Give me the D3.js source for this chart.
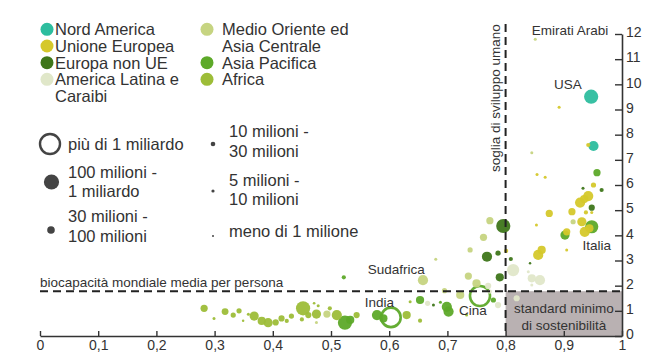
<!DOCTYPE html>
<html><head><meta charset="utf-8">
<script src="https://cdn.jsdelivr.net/npm/d3@7"></script>
<style>
body{margin:0;background:#fff;}
svg{display:block;font-family:"Liberation Sans",Arial,Helvetica,sans-serif;}
</style></head>
<body><svg id="c" width="650" height="356"></svg>
<script>
// ---- DATA ----
const regions = ["Nord America","Unione Europea","Europa non UE","America Latina e Caraibi","Medio Oriente ed Asia Centrale","Asia Pacifica","Africa"];
const regionColors = ["#2dbd9e","#d5c82b","#3e761a","#e0e7c9","#c6d481","#5da929","#9dbd38"];
// human development index (x), ecological footprint gha/person (y), region index, population (millions)
const hdi = [0.282,0.299,0.318,0.332,0.342,0.349,0.358,0.368,0.381,0.392,0.405,0.415,0.424,0.432,0.450,0.452,0.461,0.471,0.478,0.475,0.475,0.493,0.498,0.510,0.524,0.544,0.533,
0.579,0.590,0.603,0.630,0.636,0.653,0.653,0.666,0.676,0.688,0.699,0.702,0.695,0.722,0.733,0.756,0.779,0.787,0.773,0.658,
0.522,0.680,0.736,0.750,0.770,0.739,0.762,0.773,0.796,0.768,0.787,0.801,0.809,0.790,0.813,0.859,0.845,0.839,0.845,0.819,0.842,
0.856,0.862,0.905,0.902,0.905,0.948,0.936,0.944,0.931,0.916,0.853,0.875,0.914,0.938,0.948,0.948,0.928,0.942,0.935,0.933,0.951,0.965,0.957,
0.854,0.868,0.845,0.942,0.951,0.892,0.947,0.851];
const footprint = [1.10,0.70,0.97,0.83,1.00,0.61,0.86,0.79,0.60,0.53,0.54,0.70,0.60,0.79,0.66,1.10,0.83,1.30,1.20,0.87,0.54,0.87,1.10,0.83,0.53,0.83,0.64,
0.83,0.70,0.74,0.83,1.36,0.61,1.43,1.30,1.23,1.34,1.16,0.97,1.80,1.63,0.83,1.59,1.43,1.23,1.76,2.22,
2.33,3.05,2.38,2.09,1.99,3.42,3.92,4.58,4.37,3.15,3.29,3.38,3.06,2.33,2.62,2.22,2.29,2.55,2.03,1.50,2.89,
3.22,3.42,3.42,4.01,4.14,4.34,4.14,4.28,4.54,4.54,4.41,4.87,4.94,4.91,4.91,5.10,5.30,5.56,5.44,5.87,6.00,5.80,6.49,
6.42,6.31,7.28,7.59,7.55,9.09,9.51,11.79];
const region = [6,6,6,6,6,6,6,6,6,6,6,6,6,6,6,6,6,6,6,6,4,4,6,6,5,6,5,
5,5,5,6,6,6,5,3,2,5,5,5,4,4,6,5,5,3,3,4,
5,4,4,4,3,4,4,4,2,2,2,1,2,2,3,3,3,3,3,3,2,
1,1,1,5,1,5,1,1,1,4,1,1,1,1,1,2,1,1,1,2,1,2,5,
1,1,4,1,0,1,0,4];
const population = [55,6,50,28,28,3,6,132,87,132,41,41,16,28,16,355,41,4,6,132,6,55,16,176,355,41,87,
176,87,1200,87,6,16,87,28,6,6,176,176,28,87,6,1330,28,41,16,176,
16,6,55,87,41,28,55,55,355,176,28,16,16,87,266,176,87,6,6,41,3,
176,87,6,132,55,310,176,87,132,28,6,55,55,16,6,41,176,176,87,6,28,16,55,
6,6,6,16,176,6,355,6];
const sizeClassLabels = [["più di 1 miliardo"],["100 milioni -","1 miliardo"],["30 milioni -","100 milioni"],["10 milioni -","30 milioni"],["5 milioni -","10 milioni"],["meno di 1 milione"]];
const sizeClassValues = [1300,400,60,20,7,0.5];
const xTicks = [0,0.1,0.2,0.3,0.4,0.5,0.6,0.7,0.8,0.9,1];
const yTicks = [0,1,2,3,4,5,6,7,8,9,10,11,12];
const biocapacity = 1.78;
const hdiThreshold = 0.8;
const annotations = [
  {text:"Emirati Arabi", hdi:0.845, fp:11.96},
  {text:"USA", hdi:0.883, fp:9.83},
  {text:"Italia", hdi:0.932, fp:3.42},
  {text:"Sudafrica", hdi:0.563, fp:2.48},
  {text:"India", hdi:0.558, fp:1.17},
  {text:"Cina", hdi:0.720, fp:0.83}
];

// ---- CHART ----
const svg = d3.select("#c");
const x = d3.scaleLinear().domain([0,1]).range([40,622]);
const y = d3.scaleLinear().domain([0,12]).range([336,34]);
const r = d3.scaleLinear().domain([0.5,7,20,60,400,1300]).range([1,1.6,2.3,3.8,7.6,10]).clamp(true);
const color = i => regionColors[i];
const ink = "#333";

// gray box: minimum sustainability standard
svg.append("rect")
  .attr("x", x(hdiThreshold)).attr("y", y(biocapacity))
  .attr("width", x(1)-x(hdiThreshold)).attr("height", y(0)-y(biocapacity))
  .attr("fill", "#b9b1b2");

// points
const pts = hdi.map((h,i)=>({h, f:footprint[i], reg:region[i], p:population[i]}))
  .sort((a,b)=>b.p-a.p);
svg.append("g").selectAll("circle").data(pts).join("circle")
  .attr("cx", d=>x(d.h)).attr("cy", d=>y(d.f)).attr("r", d=>r(d.p))
  .attr("fill", d=> d.p>1000 ? "none" : color(d.reg))
  .attr("stroke", d=> d.p>1000 ? color(d.reg) : "none")
  .attr("stroke-width", d=> d.p>1000 ? 2.6 : 0)
  .attr("opacity", 0.95);

// dashed reference lines
svg.append("line").attr("x1", x(0)).attr("x2", x(1)).attr("y1", y(biocapacity)).attr("y2", y(biocapacity))
  .attr("stroke", "#222").attr("stroke-width", 2).attr("stroke-dasharray", "8,5");
svg.append("line").attr("x1", x(hdiThreshold)).attr("x2", x(hdiThreshold)).attr("y1", 24).attr("y2", y(0))
  .attr("stroke", "#222").attr("stroke-width", 2).attr("stroke-dasharray", "8,5");

// axes
const fmt = d => d===0 ? "0" : d===1 ? "1" : d3.format(".1f")(d).replace(".", ",");
const gx = svg.append("g").attr("transform", `translate(0,${y(0)})`)
  .call(d3.axisBottom(x).tickValues(xTicks).tickFormat(fmt).tickSizeInner(-5).tickSizeOuter(0).tickPadding(4));
const gy = svg.append("g").attr("transform", `translate(${x(1)},0)`)
  .call(d3.axisRight(y).tickValues(yTicks).tickFormat(d3.format("d")).tickSizeInner(-7).tickSizeOuter(0).tickPadding(4));
[gx,gy].forEach(g=>{
  g.select(".domain").attr("stroke", ink).attr("stroke-width", 1.6);
  g.selectAll(".tick line").attr("stroke", ink).attr("stroke-width", 1.4);
  g.selectAll(".tick text").attr("fill", ink).style("font-size","14px").style("font-family","'Liberation Sans',Arial,sans-serif");
});
gy.selectAll(".tick text").attr("dy","0.2em");

// reference labels
svg.append("text").attr("x", x(0)).attr("y", y(biocapacity)-4).attr("fill", ink)
  .style("font-size","13.5px").text("biocapacità mondiale media per persona");
svg.append("text").attr("transform", `translate(${x(hdiThreshold)-6},${172}) rotate(-90)`).attr("fill", ink)
  .style("font-size","13.5px").text("soglia di sviluppo umano");
const bx = (x(hdiThreshold)+x(1))/2;
svg.append("text").attr("x", bx).attr("y", 313).attr("text-anchor","middle").attr("fill", ink)
  .style("font-size","13.5px").text("standard minimo");
svg.append("text").attr("x", bx).attr("y", 329.5).attr("text-anchor","middle").attr("fill", ink)
  .style("font-size","13.5px").text("di sostenibilità");

// country annotations
svg.append("g").selectAll("text").data(annotations).join("text")
  .attr("x", d=>x(d.hdi)).attr("y", d=>y(d.fp)).attr("fill", ink)
  .style("font-size","13.5px").text(d=>d.text);

// color legend
const leg = svg.append("g").style("font-size","16.5px").attr("fill", ink);
const colItems = [
  {reg:0, lines:["Nord America"], mx:47, my:29.3},
  {reg:1, lines:["Unione Europea"], mx:47, my:46},
  {reg:2, lines:["Europa non UE"], mx:47, my:62.7},
  {reg:3, lines:["America Latina e","Caraibi"], mx:47, my:79.3},
  {reg:4, lines:["Medio Oriente ed","Asia Centrale"], mx:207, my:29.3},
  {reg:5, lines:["Asia Pacifica"], mx:207, my:62.7},
  {reg:6, lines:["Africa"], mx:207, my:79.3}
];
colItems.forEach(it=>{
  leg.append("circle").attr("cx", it.mx).attr("cy", it.my).attr("r", 6.5).attr("fill", color(it.reg));
  const t = leg.append("text").attr("x", it.mx + (it.mx<100 ? 8 : 15)).attr("y", it.my+6);
  it.lines.forEach((l,i)=> t.append("tspan").attr("x", it.mx + (it.mx<100 ? 8 : 15)).attr("dy", i===0?0:16.6).text(l));
});

// size legend
const sl = svg.append("g").style("font-size","16.5px").attr("fill", ink);
const sizePos = [
  {cx:50, cy:144, tx:68, ty:[150]},
  {cx:51.5, cy:182, tx:68, ty:[177.5,196.5]},
  {cx:51, cy:230, tx:68, ty:[222,242]},
  {cx:213, cy:144, tx:229, ty:[137,157]},
  {cx:213, cy:191, tx:229, ty:[186,205]},
  {cx:213, cy:236, tx:229, ty:[237]}
];
sizeClassValues.forEach((v,i)=>{
  const p = sizePos[i];
  sl.append("circle").attr("cx", p.cx).attr("cy", p.cy).attr("r", r(v))
    .attr("fill", v>1000 ? "none" : "#444").attr("stroke", v>1000 ? "#444" : "none").attr("stroke-width", 2.4);
  sizeClassLabels[i].forEach((l,j)=> sl.append("text").attr("x", p.tx).attr("y", p.ty[j]).text(l));
});
</script></body></html>
